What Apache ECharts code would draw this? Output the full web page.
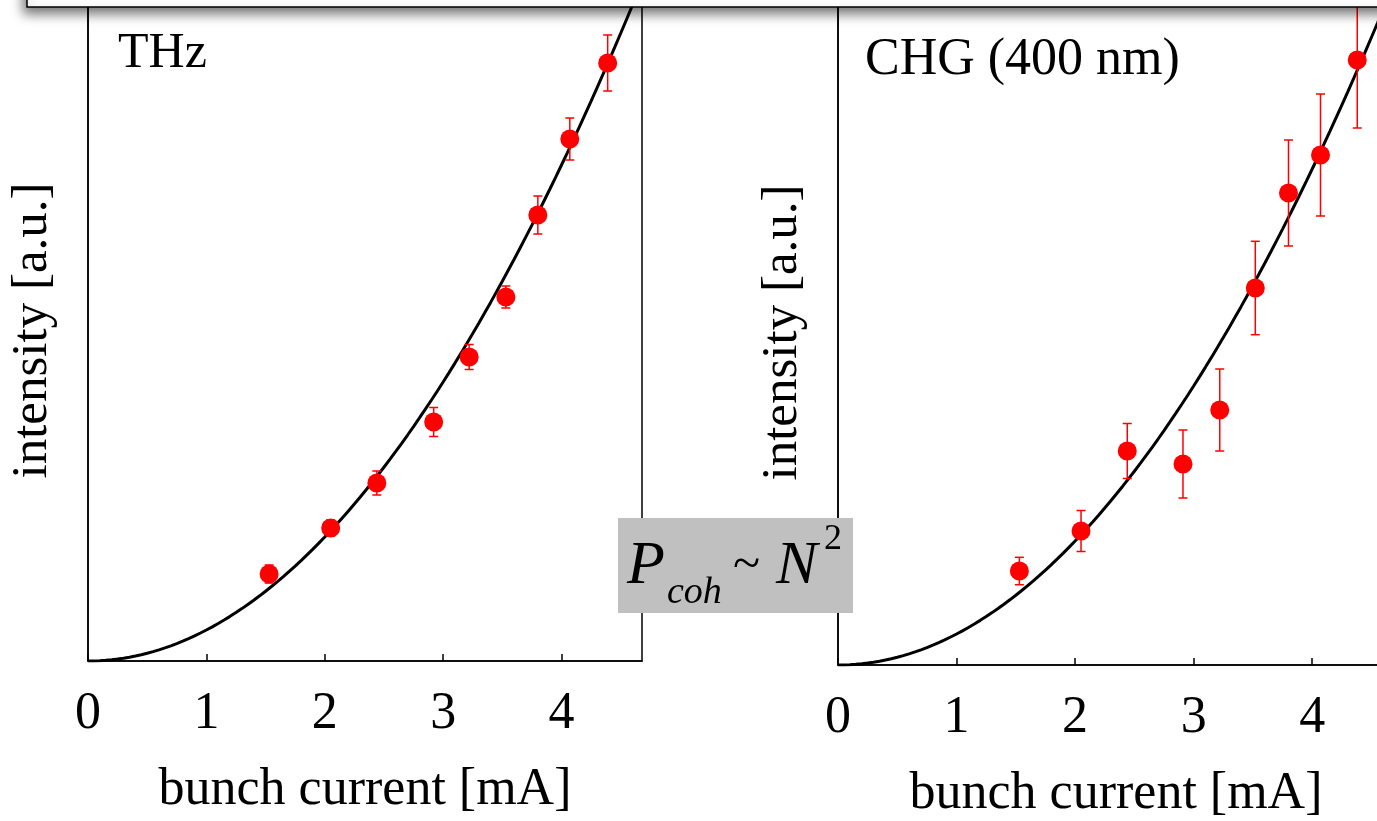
<!DOCTYPE html>
<html>
<head>
<meta charset="utf-8">
<script src="https://cdn.jsdelivr.net/npm/echarts@6/dist/echarts.min.js"></script>
<style>
  html, body { margin: 0; padding: 0; background: #fff; }
  #chart { width: 1377px; height: 821px; }
</style>
</head>
<body>
<div id="chart"></div>
<script>
// bunch current [mA]
var thzCurrent = [1.53, 2.05, 2.44, 2.92, 3.22, 3.53, 3.80, 4.07, 4.39];
var thzIntensity = [0.87, 1.33, 1.78, 2.39, 3.04, 3.64, 4.46, 5.22, 5.98];
var thzError = [0.09, 0.08, 0.12, 0.145, 0.125, 0.11, 0.19, 0.21, 0.28];

var chgCurrent = [1.53, 2.05, 2.44, 2.91, 3.22, 3.52, 3.80, 4.07, 4.38];
var chgIntensity = [0.94, 1.34, 2.14, 2.01, 2.55, 3.77, 4.72, 5.10, 6.05];
var chgError = [0.137, 0.205, 0.275, 0.34, 0.41, 0.467, 0.53, 0.61, 0.68];

var xTicks = [0, 1, 2, 3, 4];
// P_coh ~ N^2 fit coefficient
var fitCoef = 0.31;

var chart = echarts.init(document.getElementById('chart'));
var serif = 'Liberation Serif';

function zipData(xs, ys, es) {
    return xs.map(function (x, i) { return es ? [x, ys[i], es[i]] : [x, ys[i]]; });
}
function fitCurve(xmax) {
    var pts = [];
    for (var x = 0; x <= xmax + 0.001; x += 0.05) {
        pts.push([x, fitCoef * x * x]);
    }
    return pts;
}

// 误差棒
function errorBar(params, api) {
    var x = api.value(0), y = api.value(1), e = api.value(2);
    var top = api.coord([x, y + e]);
    var bot = api.coord([x, y - e]);
    var cap = 4.5;
    var st = { stroke: '#ff0000', lineWidth: 1.5 };
    return {
        type: 'group',
        children: [
            { type: 'line', shape: { x1: top[0], y1: top[1], x2: bot[0], y2: bot[1] }, style: st },
            { type: 'line', shape: { x1: top[0] - cap, y1: top[1], x2: top[0] + cap, y2: top[1] }, style: st },
            { type: 'line', shape: { x1: bot[0] - cap, y1: bot[1], x2: bot[0] + cap, y2: bot[1] }, style: st }
        ]
    };
}

function xAxisCfg(idx, max) {
    return {
        type: 'value', gridIndex: idx, min: 0, max: max, interval: 1,
        name: 'bunch current [mA]', nameLocation: 'middle', nameGap: 103,
        nameTextStyle: { fontFamily: serif, fontSize: 52, color: '#000' },
        axisLine: { show: true, lineStyle: { color: '#000', width: 1.5 } },
        axisTick: { show: true, inside: true, length: 7, lineStyle: { color: '#000', width: 1.5 } },
        axisLabel: {
            fontFamily: serif, fontSize: 52, color: '#000', margin: 27, showMaxLabel: false,
            formatter: function (v) { return xTicks.indexOf(v) >= 0 ? String(v) : ''; }
        },
        splitLine: { show: false }
    };
}
function yAxisCfg(idx, max) {
    return {
        type: 'value', gridIndex: idx, min: 0, max: max,
        name: 'intensity [a.u.]', nameLocation: 'middle', nameGap: 30,
        nameTextStyle: { fontFamily: serif, fontSize: 51, color: '#000' },
        axisLine: { show: true, lineStyle: { color: '#000', width: 1.5 } },
        axisTick: { show: false },
        axisLabel: { show: false },
        splitLine: { show: false }
    };
}

var option = {
    backgroundColor: '#fff',
    animation: false,
    grid: [
        { left: 88, top: 0, width: 554, bottom: 160, outerBoundsMode: 'none', containLabel: false,
          show: true, borderColor: '#000', borderWidth: 1.5 },
        { left: 838, top: 0, right: -17, bottom: 156, outerBoundsMode: 'none', containLabel: false,
          show: true, borderColor: '#000', borderWidth: 1.5 }
    ],
    xAxis: [xAxisCfg(0, 4.68), xAxisCfg(1, 4.69)],
    yAxis: [yAxisCfg(0, 6.61), yAxisCfg(1, 6.65)],
    series: [
        {
            type: 'line', xAxisIndex: 0, yAxisIndex: 0, data: fitCurve(4.68),
            showSymbol: false, lineStyle: { color: '#000', width: 3 }, z: 3
        },
        {
            type: 'custom', xAxisIndex: 0, yAxisIndex: 0, renderItem: errorBar,
            data: zipData(thzCurrent, thzIntensity, thzError), z: 4
        },
        {
            type: 'scatter', xAxisIndex: 0, yAxisIndex: 0, symbolSize: 19,
            itemStyle: { color: '#ff0000', opacity: 1 },
            data: zipData(thzCurrent, thzIntensity), z: 5
        },
        {
            type: 'line', xAxisIndex: 1, yAxisIndex: 1, data: fitCurve(4.69),
            showSymbol: false, lineStyle: { color: '#000', width: 3 }, z: 3
        },
        {
            type: 'custom', xAxisIndex: 1, yAxisIndex: 1, renderItem: errorBar,
            data: zipData(chgCurrent, chgIntensity, chgError), z: 4
        },
        {
            type: 'scatter', xAxisIndex: 1, yAxisIndex: 1, symbolSize: 19,
            itemStyle: { color: '#ff0000', opacity: 1 },
            data: zipData(chgCurrent, chgIntensity), z: 5
        }
    ],
    graphic: [
        // 顶部遮挡框
        {
            type: 'rect', z: 100, shape: { x: 27, y: -20, width: 1400, height: 27 },
            style: { fill: '#fff', stroke: '#000', lineWidth: 1.5, shadowBlur: 12, shadowOffsetX: -3, shadowOffsetY: 6, shadowColor: 'rgba(0,0,0,0.55)' }
        },
        { type: 'text', z: 100, x: 118, y: 54, style: { text: 'THz', fontFamily: serif, fontSize: 50, fill: '#000', verticalAlign: 'middle' } },
        { type: 'text', z: 100, x: 865, y: 60, style: { text: 'CHG (400 nm)', fontFamily: serif, fontSize: 52, fill: '#000', verticalAlign: 'middle' } },
        // P_coh ~ N^2
        { type: 'rect', z: 100, shape: { x: 618, y: 518, width: 235, height: 95 }, style: { fill: '#c0c0c0' } },
        { type: 'text', z: 101, x: 627, y: 567, style: { text: 'P', fontFamily: serif, fontStyle: 'italic', fontSize: 62, fill: '#000', verticalAlign: 'middle' } },
        { type: 'text', z: 101, x: 667, y: 593, style: { text: 'coh', fontFamily: serif, fontStyle: 'italic', fontSize: 38, fill: '#000', verticalAlign: 'middle' } },
        { type: 'text', z: 101, x: 733, y: 566, style: { text: '~', fontFamily: serif, fontSize: 50, fill: '#000', verticalAlign: 'middle' } },
        { type: 'text', z: 101, x: 776, y: 567, style: { text: 'N', fontFamily: serif, fontStyle: 'italic', fontSize: 62, fill: '#000', verticalAlign: 'middle' } },
        { type: 'text', z: 101, x: 824, y: 540, style: { text: '2', fontFamily: serif, fontSize: 36, fill: '#000', verticalAlign: 'middle' } }
    ]
};

chart.setOption(option);
window.onresize = function () { chart.resize(); };
</script>
</body>
</html>
